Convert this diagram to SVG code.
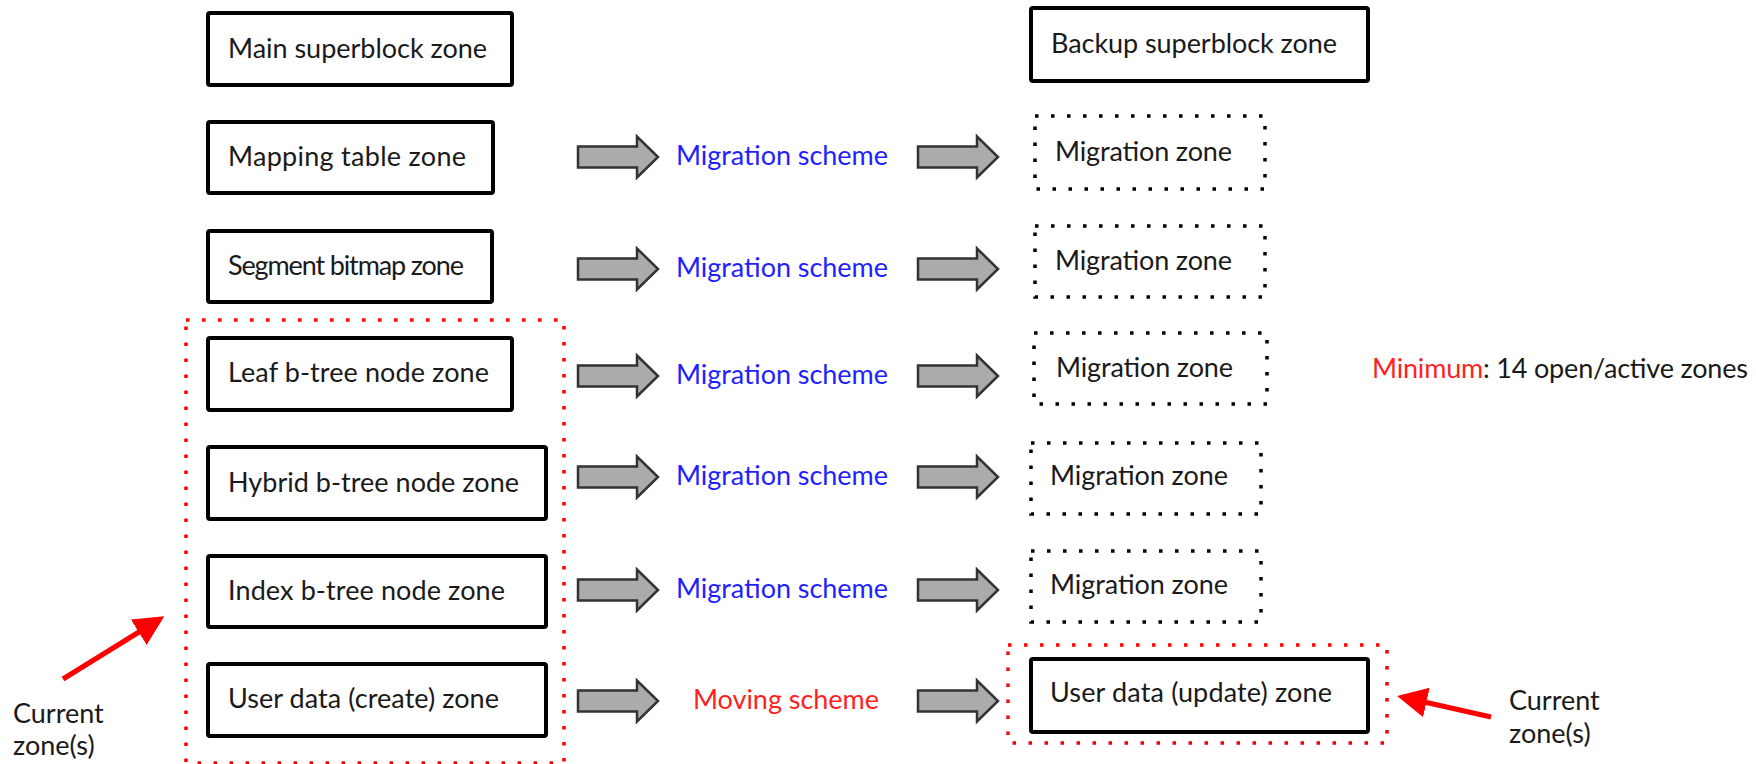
<svg xmlns="http://www.w3.org/2000/svg" width="1756" height="764" viewBox="0 0 1756 764">
<defs>
<style>
.box{fill:#fff;stroke:#000;stroke-width:4}
.mz{fill:none;stroke:#000;stroke-width:3.5;stroke-dasharray:3.5 12.5}
.rz{fill:none;stroke:#ff0000;stroke-width:3.5;stroke-dasharray:3.5 12.5}
.t{font-family:Lato,"Liberation Sans",sans-serif;font-size:27px;fill:#1a1a1a}
.blue{font-family:Lato,"Liberation Sans",sans-serif;font-size:27px;fill:#1f1fff}
.red{fill:#ff1f1f}
.arr{fill:#ababab;stroke:#333;stroke-width:2.5;stroke-linejoin:miter}
.rl{stroke:#ff0000;stroke-width:5;fill:none}
</style>
<path id="ba" class="arr" d="M0,-10.5 H59 V-20.5 L80,0 L59,20.5 V10.5 H0 Z"/>
<marker id="rh" markerWidth="6" markerHeight="6" refX="5" refY="3" orient="auto" markerUnits="strokeWidth">
<path d="M0,0 L6,3 L0,6 Z" fill="#ff0000"/>
</marker>
</defs>
<rect width="1756" height="764" fill="#fff"/>

<g id="current-left-region"><rect class="rz" x="186" y="320" width="378" height="443"/></g>
<g id="current-right-region"><rect class="rz" x="1008" y="645" width="379" height="98"/></g>

<g id="main-superblock"><rect class="box" x="208" y="13" width="304" height="72" rx="2"/><text class="t" x="228" y="58" textLength="259" lengthAdjust="spacing">Main superblock zone</text></g>
<g id="mapping-table"><rect class="box" x="208" y="122" width="285" height="71" rx="2"/><text class="t" x="228" y="166" textLength="238" lengthAdjust="spacing">Mapping table zone</text></g>
<g id="segment-bitmap"><rect class="box" x="208" y="231" width="284" height="71" rx="2"/><text class="t" x="228" y="275" textLength="236" lengthAdjust="spacing">Segment bitmap zone</text></g>
<g id="leaf-btree"><rect class="box" x="208" y="338" width="304" height="72" rx="2"/><text class="t" x="228" y="382" textLength="261" lengthAdjust="spacing">Leaf b-tree node zone</text></g>
<g id="hybrid-btree"><rect class="box" x="208" y="447" width="338" height="72" rx="2"/><text class="t" x="228" y="492" textLength="291" lengthAdjust="spacing">Hybrid b-tree node zone</text></g>
<g id="index-btree"><rect class="box" x="208" y="556" width="338" height="71" rx="2"/><text class="t" x="228" y="600" textLength="277" lengthAdjust="spacing">Index b-tree node zone</text></g>
<g id="user-data-create"><rect class="box" x="208" y="664" width="338" height="72" rx="2"/><text class="t" x="228" y="708" textLength="271" lengthAdjust="spacing">User data (create) zone</text></g>

<g id="backup-superblock"><rect class="box" x="1031" y="8" width="337" height="73" rx="2"/><text class="t" x="1051" y="53" textLength="286" lengthAdjust="spacing">Backup superblock zone</text></g>
<g id="migration-zone-1"><rect class="mz" x="1035" y="116" width="230" height="73"/><text class="t" x="1055" y="161" textLength="177" lengthAdjust="spacing">Migration zone</text></g>
<g id="migration-zone-2"><rect class="mz" x="1035" y="226" width="230" height="71"/><text class="t" x="1055" y="270" textLength="177" lengthAdjust="spacing">Migration zone</text></g>
<g id="migration-zone-3"><rect class="mz" x="1034" y="333" width="233" height="71"/><text class="t" x="1056" y="377" textLength="177" lengthAdjust="spacing">Migration zone</text></g>
<g id="migration-zone-4"><rect class="mz" x="1031" y="443" width="230" height="71"/><text class="t" x="1050" y="485" textLength="178" lengthAdjust="spacing">Migration zone</text></g>
<g id="migration-zone-5"><rect class="mz" x="1031" y="551" width="230" height="71"/><text class="t" x="1050" y="594" textLength="178" lengthAdjust="spacing">Migration zone</text></g>
<g id="user-data-update"><rect class="box" x="1031" y="659" width="337" height="73" rx="2"/><text class="t" x="1050" y="702" textLength="282" lengthAdjust="spacing">User data (update) zone</text></g>

<g id="scheme-labels">
<text class="blue" x="676" y="165" textLength="212" lengthAdjust="spacing">Migration scheme</text>
<text class="blue" x="676" y="277" textLength="212" lengthAdjust="spacing">Migration scheme</text>
<text class="blue" x="676" y="384" textLength="212" lengthAdjust="spacing">Migration scheme</text>
<text class="blue" x="676" y="485" textLength="212" lengthAdjust="spacing">Migration scheme</text>
<text class="blue" x="676" y="598" textLength="212" lengthAdjust="spacing">Migration scheme</text>
<text class="t red" x="693" y="709" textLength="186" lengthAdjust="spacing">Moving scheme</text>
</g>

<g id="connectors">
<use href="#ba" x="578" y="157"/><use href="#ba" x="918" y="157"/>
<use href="#ba" x="578" y="269"/><use href="#ba" x="918" y="269"/>
<use href="#ba" x="578" y="376"/><use href="#ba" x="918" y="376"/>
<use href="#ba" x="578" y="477"/><use href="#ba" x="918" y="477"/>
<use href="#ba" x="578" y="590"/><use href="#ba" x="918" y="590"/>
<use href="#ba" x="578" y="701"/><use href="#ba" x="918" y="701"/>
<line class="rl" x1="63" y1="679" x2="160" y2="619" marker-end="url(#rh)"/>
<line class="rl" x1="1491" y1="717" x2="1402" y2="697" marker-end="url(#rh)"/>
</g>

<g id="notes">
<text class="t" x="1372" y="378" textLength="376" lengthAdjust="spacing"><tspan fill="#ff1f1f">Minimum</tspan>: 14 open/active zones</text>
<text class="t" x="13" y="723">Current</text>
<text class="t" x="13" y="755">zone(s)</text>
<text class="t" x="1509" y="710">Current</text>
<text class="t" x="1509" y="743">zone(s)</text>
</g>
</svg>
